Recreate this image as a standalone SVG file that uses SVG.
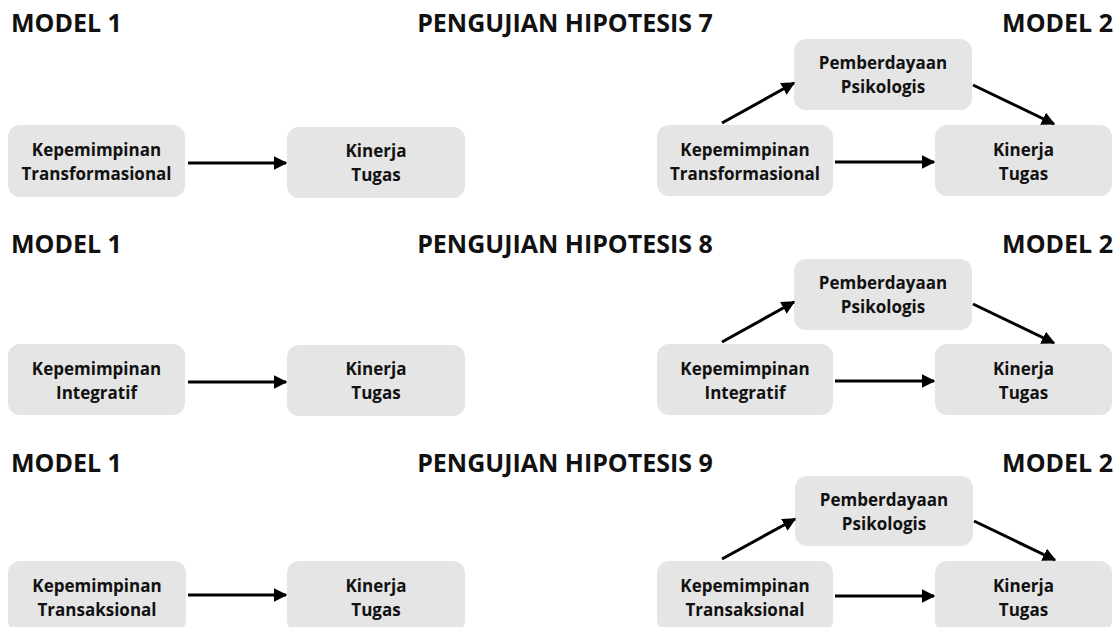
<svg xmlns="http://www.w3.org/2000/svg" width="1118" height="627" viewBox="0 0 1118 627">
<style>
.h{font-family:"Open Sans","Liberation Sans",sans-serif;font-weight:700;font-size:25px;fill:#111}
.n rect{fill:#e5e5e5}
.n text{font-family:"Open Sans","Liberation Sans",sans-serif;font-weight:700;font-size:17px;fill:#111;text-anchor:middle}
.c line{stroke:#000;stroke-width:3;marker-end:url(#ah)}
</style>
<defs>
<marker id="ah" viewBox="0 0 10 10" refX="9" refY="5" markerWidth="4.5" markerHeight="4.5" orient="auto" markerUnits="strokeWidth">
<path d="M0,0 L10,5 L0,10 z" fill="#000"/>
</marker>
</defs>
<rect width="1118" height="627" fill="#fff"/>
<g id="rows">
<g id="row1">
<text class="h" x="11" y="32">MODEL 1</text>
<text class="h" x="565" y="32" text-anchor="middle">PENGUJIAN HIPOTESIS 7</text>
<text class="h" x="1113" y="32" text-anchor="end">MODEL 2</text>
<g id="r1-m1-x" class="n"><rect x="8" y="125" width="177" height="72" rx="12"/><text x="96.5" y="156">Kepemimpinan</text><text x="96.5" y="180">Transformasional</text></g>
<g id="r1-m1-y" class="n"><rect x="287" y="127" width="178" height="71" rx="12"/><text x="376" y="157">Kinerja</text><text x="376" y="181">Tugas</text></g>
<g id="r1-m2-m" class="n"><rect x="794" y="39" width="178" height="71" rx="12"/><text x="883" y="69">Pemberdayaan</text><text x="883" y="93">Psikologis</text></g>
<g id="r1-m2-x" class="n"><rect x="657" y="125" width="176" height="71" rx="12"/><text x="745" y="156">Kepemimpinan</text><text x="745" y="180">Transformasional</text></g>
<g id="r1-m2-y" class="n"><rect x="935" y="125" width="177" height="71" rx="12"/><text x="1023.5" y="156">Kinerja</text><text x="1023.5" y="180">Tugas</text></g>
</g>
<g id="row2">
<text class="h" x="11" y="253">MODEL 1</text>
<text class="h" x="565" y="253" text-anchor="middle">PENGUJIAN HIPOTESIS 8</text>
<text class="h" x="1113" y="253" text-anchor="end">MODEL 2</text>
<g id="r2-m1-x" class="n"><rect x="8" y="344" width="177" height="71" rx="12"/><text x="96.5" y="375">Kepemimpinan</text><text x="96.5" y="399">Integratif</text></g>
<g id="r2-m1-y" class="n"><rect x="287" y="345" width="178" height="71" rx="12"/><text x="376" y="375">Kinerja</text><text x="376" y="399">Tugas</text></g>
<g id="r2-m2-m" class="n"><rect x="794" y="259" width="178" height="71" rx="12"/><text x="883" y="289">Pemberdayaan</text><text x="883" y="313">Psikologis</text></g>
<g id="r2-m2-x" class="n"><rect x="657" y="344" width="176" height="71" rx="12"/><text x="745" y="375">Kepemimpinan</text><text x="745" y="399">Integratif</text></g>
<g id="r2-m2-y" class="n"><rect x="935" y="344" width="177" height="71" rx="12"/><text x="1023.5" y="375">Kinerja</text><text x="1023.5" y="399">Tugas</text></g>
</g>
<g id="row3">
<text class="h" x="11" y="472">MODEL 1</text>
<text class="h" x="565" y="472" text-anchor="middle">PENGUJIAN HIPOTESIS 9</text>
<text class="h" x="1113" y="472" text-anchor="end">MODEL 2</text>
<g id="r3-m1-x" class="n"><rect x="8" y="561" width="178" height="71" rx="12"/><text x="97" y="592">Kepemimpinan</text><text x="97" y="616">Transaksional</text></g>
<g id="r3-m1-y" class="n"><rect x="287" y="561" width="178" height="71" rx="12"/><text x="376" y="592">Kinerja</text><text x="376" y="616">Tugas</text></g>
<g id="r3-m2-m" class="n"><rect x="795" y="476" width="178" height="70" rx="12"/><text x="884" y="506">Pemberdayaan</text><text x="884" y="530">Psikologis</text></g>
<g id="r3-m2-x" class="n"><rect x="657" y="561" width="176" height="71" rx="12"/><text x="745" y="592">Kepemimpinan</text><text x="745" y="616">Transaksional</text></g>
<g id="r3-m2-y" class="n"><rect x="935" y="561" width="177" height="71" rx="12"/><text x="1023.5" y="592">Kinerja</text><text x="1023.5" y="616">Tugas</text></g>
</g>
</g>
<g id="connectors" class="c">
<line x1="188" y1="163" x2="286" y2="163"/>
<line x1="835" y1="162" x2="934" y2="162"/>
<line x1="722" y1="123" x2="794" y2="83"/>
<line x1="973" y1="85" x2="1054" y2="124"/>
<line x1="188" y1="382" x2="286" y2="382"/>
<line x1="835" y1="381" x2="934" y2="381"/>
<line x1="722" y1="342" x2="794" y2="302"/>
<line x1="973" y1="304" x2="1054" y2="343"/>
<line x1="188" y1="595" x2="286" y2="595"/>
<line x1="835" y1="596" x2="934" y2="596"/>
<line x1="722" y1="559" x2="795" y2="519"/>
<line x1="974" y1="521" x2="1055" y2="560"/>
</g>
</svg>
